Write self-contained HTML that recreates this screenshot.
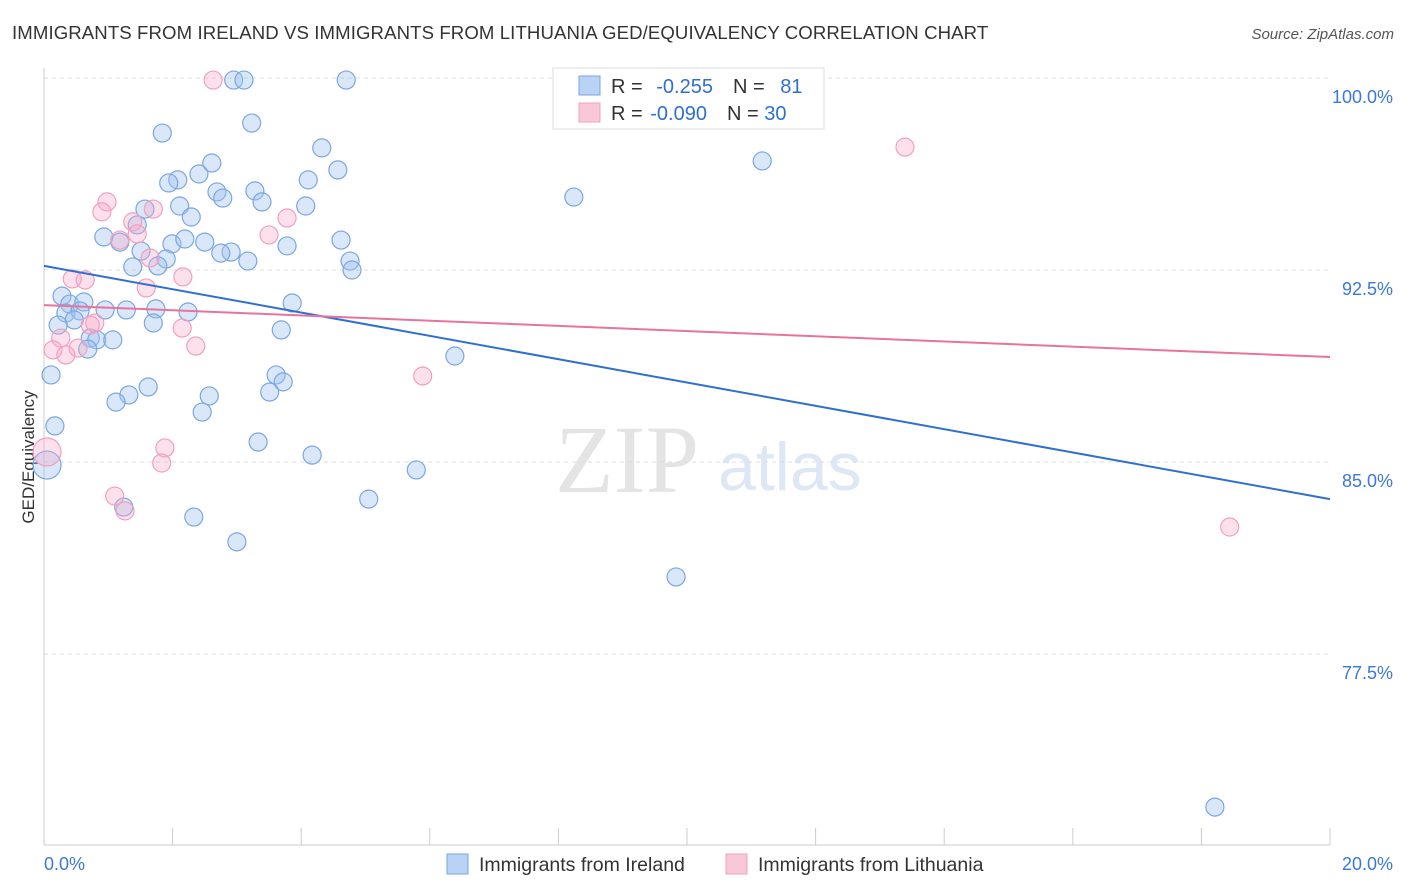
<!DOCTYPE html>
<html><head><meta charset="utf-8"><style>
body{margin:0;background:#fff;font-family:"Liberation Sans",sans-serif;}
svg{display:block}
</style></head><body>
<svg id="chart" width="1406" height="892">
<text x="12" y="39" font-size="18.6" fill="#333" letter-spacing="0.1">IMMIGRANTS FROM IRELAND VS IMMIGRANTS FROM LITHUANIA GED/EQUIVALENCY CORRELATION CHART</text>
<text x="1394" y="39" font-size="15" fill="#555" font-style="italic" text-anchor="end">Source: ZipAtlas.com</text>
<text x="555" y="492" font-size="96" fill="#e4e4e4" font-family="Liberation Serif,serif">ZIP</text>
<text x="718" y="490" font-size="68" fill="#dde7f5">atlas</text>
<text transform="translate(34,457) rotate(-90)" font-size="17" fill="#333" text-anchor="middle">GED/Equivalency</text>
<g id="grid"></g><g id="marks"></g>
<g>
<rect x="553" y="68" width="271" height="61" fill="#fff" stroke="#ddd"/>
<rect x="579" y="76" width="21" height="19" fill="#b8d3f5" stroke="#7aa7e0"/>
<rect x="579" y="103" width="21" height="19" fill="#f8c8d8" stroke="#f0a0c0"/>
<text x="611" y="93" font-size="20" fill="#333">R = <tspan fill="#2f6fd0" dx="8">-0.255</tspan><tspan dx="20" fill="#333">N = </tspan><tspan fill="#2f6fd0" dx="10">81</tspan></text>
<text x="611" y="120" font-size="20" fill="#333">R = <tspan fill="#2f6fd0" dx="2">-0.090</tspan><tspan dx="20" fill="#333">N = </tspan><tspan fill="#2f6fd0">30</tspan></text>
</g>
<g>
<rect x="447" y="854" width="21" height="20" fill="#b8d3f5" stroke="#7aa7e0"/>
<text x="479" y="871" font-size="19.5" fill="#333">Immigrants from Ireland</text>
<rect x="726" y="854" width="21" height="20" fill="#f8c8d8" stroke="#f0a0c0"/>
<text x="758" y="871" font-size="19.5" fill="#333">Immigrants from Lithuania</text>
</g>
</svg>
<script>
const blueX=[2.95,3.11,4.70,1.84,3.23,4.32,2.61,11.17,4.57,2.41,2.08,1.94,4.11,2.69,3.28,2.78,8.24,3.39,2.11,4.07,1.57,2.29,1.45,0.93,1.18,1.99,2.19,2.50,3.78,4.62,2.91,2.75,1.51,1.90,3.17,4.76,1.77,1.38,4.79,0.28,0.40,0.62,3.86,0.34,0.56,0.95,1.28,1.74,2.24,0.47,0.22,1.70,3.69,0.72,0.82,1.07,0.68,6.39,0.11,3.61,3.72,1.62,1.32,2.57,3.51,1.12,2.46,0.17,3.33,4.17,5.79,0.00,5.05,1.24,2.33,3.00,9.83,18.21];
const blueY=[99.92,99.92,99.92,97.85,98.24,97.27,96.68,96.76,96.41,96.25,96.02,95.90,96.02,95.55,95.59,95.31,95.35,95.16,95.00,95.00,94.88,94.57,94.26,93.79,93.59,93.52,93.71,93.59,93.44,93.67,93.20,93.16,93.24,92.93,92.85,92.85,92.66,92.62,92.50,91.48,91.17,91.25,91.21,90.82,90.90,90.94,90.94,90.98,90.86,90.55,90.35,90.43,90.16,89.84,89.77,89.77,89.41,89.14,88.40,88.40,88.13,87.93,87.62,87.58,87.73,87.34,86.95,86.41,85.78,85.27,84.69,84.88,83.55,83.24,82.85,81.88,80.51,71.52];
const pinkX=[2.63,13.39,0.98,0.90,1.70,1.38,3.50,3.78,1.18,1.45,1.65,2.16,0.44,0.64,1.59,0.79,0.72,2.15,0.26,2.36,0.53,0.14,0.34,5.89,0.00,1.88,1.83,1.10,1.26,18.44];
const pinkY=[99.92,97.30,95.16,94.77,94.88,94.38,93.87,94.53,93.67,93.91,92.97,92.23,92.15,92.11,91.80,90.43,90.35,90.23,89.84,89.53,89.45,89.38,89.18,88.36,85.39,85.55,84.96,83.67,83.09,82.46];
const blueTrend=[92.66,83.55];
const pinkTrend=[91.13,89.10];
const yTicks=[100,92.5,85,77.5];
const yTickLabels=["100.0%","92.5%","85.0%","77.5%"];
const xTicks=[0,2,4,6,8,10,12,14,16,18,20];
const NS="http://www.w3.org/2000/svg";
const sx=v=>44+v/20*1286;
const sy=v=>78+(100-v)/7.5*192;
function mk(tag,attrs,parent){const e=document.createElementNS(NS,tag);for(const k in attrs)e.setAttribute(k,attrs[k]);parent.appendChild(e);return e;}
const grid=document.getElementById('grid'),marks=document.getElementById('marks');
yTicks.forEach((t,i)=>{
 const l=mk('line',{x1:44,x2:1330,y1:sy(t),y2:sy(t),stroke:'#ddd','stroke-dasharray':'4,4'},grid);
 
 
 const tx=mk('text',{x:1393,y:sy(t)+25,'font-size':18,fill:'#3b78d8','text-anchor':'end'},grid);
 tx.textContent=yTickLabels[i];
 
 
});
const ax=mk('line',{x1:44,x2:44,y1:68,y2:845,stroke:'#ccc'},grid);


const bx=mk('line',{x1:44,x2:1330,y1:845,y2:845,stroke:'#ccc'},grid);


xTicks.forEach(t=>{
 const l=mk('line',{x1:sx(t),x2:sx(t),y1:828,y2:845,stroke:'#ccc'},grid);
 
 
});
const x0=mk('text',{x:44,y:870,'font-size':18,fill:'#3b78d8'},grid);x0.textContent='0.0%';


const x1=mk('text',{x:1393,y:870,'font-size':18,fill:'#3b78d8','text-anchor':'end'},grid);x1.textContent='20.0%';


function dots(X,Y,fill,stroke,name){X.forEach((x,i)=>{
 const r=(x===0)?14:9;
 const c=mk('circle',{cx:sx(x)+(x===0?3:0),cy:sy(Y[i]),r:r,fill:fill,stroke:stroke,'stroke-width':1.2},marks);
 
 
});}
dots(blueX,blueY,'rgba(160,196,240,0.4)','#7aa7e0','ireland-point');
dots(pinkX,pinkY,'rgba(245,170,200,0.35)','#f0a0c0','lithuania-point');
const t1=mk('line',{x1:sx(0),y1:sy(blueTrend[0]),x2:sx(20),y2:sy(blueTrend[1]),stroke:'#2f6fd0','stroke-width':2},marks);


const t2=mk('line',{x1:sx(0),y1:sy(pinkTrend[0]),x2:sx(20),y2:sy(pinkTrend[1]),stroke:'#e8739c','stroke-width':2},marks);


</script>
</body></html>
